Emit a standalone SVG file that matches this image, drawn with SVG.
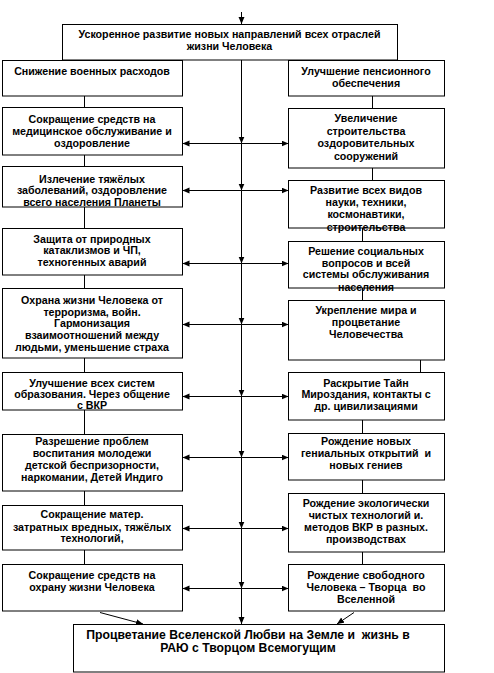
<svg xmlns="http://www.w3.org/2000/svg" width="494" height="673" viewBox="0 0 494 673">
<defs>
<marker id="ah" markerUnits="userSpaceOnUse" markerWidth="8" markerHeight="7" refX="7" refY="3" orient="auto">
<path d="M0,0 L7,3 L0,6 Z" fill="#000"/>
</marker>
<style>
rect{fill:#fff;stroke:#000;stroke-width:1}
text{font-family:"Liberation Sans",Arial,sans-serif;font-weight:bold;font-size:10.67px;fill:#000;text-anchor:middle}
.big{font-size:12.2px}
#connectors line,#connectors path{stroke:#000;stroke-width:1;fill:none}
.a{marker-end:url(#ah)}
</style>
</defs>
<rect x="0" y="0" width="494" height="673" style="fill:#fff;stroke:none"/>
<g id="connectors">
<line class="a" x1="241.5" y1="12" x2="241.5" y2="24"/>
<line class="a" x1="241.5" y1="60" x2="241.5" y2="143.5"/>
<line class="a" x1="241.5" y1="143.5" x2="241.5" y2="190.5"/>
<line class="a" x1="241.5" y1="190.5" x2="241.5" y2="263.5"/>
<line class="a" x1="241.5" y1="263.5" x2="241.5" y2="324.5"/>
<line class="a" x1="241.5" y1="324.5" x2="241.5" y2="396.5"/>
<line class="a" x1="241.5" y1="396.5" x2="241.5" y2="457.5"/>
<line class="a" x1="241.5" y1="457.5" x2="241.5" y2="528.5"/>
<line class="a" x1="241.5" y1="528.5" x2="241.5" y2="588.5"/>
<line class="a" x1="241.5" y1="588.5" x2="241.5" y2="624"/>
<line class="a" x1="241.5" y1="143.5" x2="182.5" y2="143.5"/>
<line class="a" x1="241.5" y1="190.5" x2="182.5" y2="190.5"/>
<line class="a" x1="241.5" y1="263.5" x2="182.5" y2="263.5"/>
<line class="a" x1="241.5" y1="324.5" x2="182.5" y2="324.5"/>
<line class="a" x1="241.5" y1="396.5" x2="182.5" y2="396.5"/>
<line class="a" x1="241.5" y1="457.5" x2="182.5" y2="457.5"/>
<line class="a" x1="241.5" y1="528.5" x2="182.5" y2="528.5"/>
<line class="a" x1="241.5" y1="588.5" x2="182.5" y2="588.5"/>
<line class="a" x1="241.5" y1="143.5" x2="288.5" y2="143.5"/>
<line class="a" x1="241.5" y1="190.5" x2="288.5" y2="190.5"/>
<line class="a" x1="241.5" y1="263.5" x2="288.5" y2="263.5"/>
<line class="a" x1="241.5" y1="324.5" x2="288.5" y2="324.5"/>
<line class="a" x1="241.5" y1="396.5" x2="288.5" y2="396.5"/>
<line class="a" x1="241.5" y1="457.5" x2="288.5" y2="457.5"/>
<line class="a" x1="241.5" y1="528.5" x2="288.5" y2="528.5"/>
<line class="a" x1="241.5" y1="588.5" x2="288.5" y2="588.5"/>
<line x1="84.5" y1="96" x2="84.5" y2="107"/>
<line x1="84.5" y1="155" x2="84.5" y2="166"/>
<line x1="84.5" y1="207" x2="84.5" y2="228"/>
<line x1="84.5" y1="275" x2="84.5" y2="288"/>
<line x1="84.5" y1="358" x2="84.5" y2="372"/>
<line x1="84.5" y1="410" x2="84.5" y2="434"/>
<line x1="84.5" y1="491" x2="84.5" y2="505"/>
<line x1="84.5" y1="550" x2="84.5" y2="564"/>
<line x1="372.5" y1="96" x2="372.5" y2="108"/>
<line x1="372.5" y1="168" x2="372.5" y2="180"/>
<line x1="362.5" y1="228" x2="362.5" y2="241"/>
<line x1="362.5" y1="288" x2="362.5" y2="300"/>
<line x1="420.5" y1="360" x2="420.5" y2="372"/>
<line x1="362.5" y1="420" x2="362.5" y2="433"/>
<line x1="362.5" y1="480" x2="362.5" y2="493"/>
<line x1="362.5" y1="552" x2="362.5" y2="564"/>
<line class="a" x1="100" y1="612.5" x2="143" y2="624"/>
<line class="a" x1="354" y1="612.5" x2="337" y2="624"/>
</g>
<g id="n_top"><rect x="62.5" y="24.5" width="335" height="35.5"/>
<text x="229.5" y="37.5">Ускоренное развитие новых направлений всех отраслей</text>
<text x="229.5" y="50">жизни Человека</text></g>
<g id="n_l1"><rect x="2.5" y="60.5" width="180" height="35.5"/>
<text x="92" y="75">Снижение военных расходов</text></g>
<g id="n_r1"><rect x="288.5" y="60.5" width="156" height="35.5"/>
<text x="366" y="75">Улучшение пенсионного</text>
<text x="366" y="87.3">обеспечения</text></g>
<g id="n_l2"><rect x="2.5" y="107.5" width="180" height="47.5"/>
<text x="92" y="122.7">Сокращение средств на</text>
<text x="92" y="135">медицинское обслуживание и</text>
<text x="92" y="147.3">оздоровление</text></g>
<g id="n_l3"><rect x="2.5" y="166.5" width="180" height="40.5"/>
<text x="92" y="182.7">Излечение тяжёлых</text>
<text x="92" y="194.3">заболеваний, оздоровление</text>
<text x="92" y="206">всего населения Планеты</text></g>
<g id="n_l4"><rect x="2.5" y="228.5" width="180" height="46.5"/>
<text x="92" y="242.7">Защита от природных</text>
<text x="92" y="254.3">катаклизмов и ЧП,</text>
<text x="92" y="266">техногенных аварий</text></g>
<g id="n_l5"><rect x="2.5" y="288.5" width="180" height="69.5"/>
<text x="92" y="304">Охрана жизни Человека от</text>
<text x="92" y="315.5">терроризма, войн.</text>
<text x="92" y="327">Гармонизация</text>
<text x="92" y="338.5">взаимоотношений между</text>
<text x="92" y="350.5">людьми, уменьшение страха</text></g>
<g id="n_l6"><rect x="2.5" y="372.5" width="180" height="37.5"/>
<text x="92" y="386.7">Улучшение всех систем</text>
<text x="92" y="398.3">образования. Через общение</text>
<text x="92" y="409.3">с ВКР</text></g>
<g id="n_l7"><rect x="2.5" y="434.5" width="180" height="56.5"/>
<text x="92" y="445">Разрешение проблем</text>
<text x="92" y="457">воспитания молодежи</text>
<text x="92" y="469">детской беспризорности,</text>
<text x="92" y="481">наркомании, Детей Индиго</text></g>
<g id="n_l8"><rect x="2.5" y="505.5" width="180" height="44.5"/>
<text x="92" y="518.3">Сокращение матер.</text>
<text x="92" y="530.7">затратных вредных, тяжёлых</text>
<text x="92" y="542.3">технологий,</text></g>
<g id="n_l9"><rect x="2.5" y="564.5" width="180" height="46.5"/>
<text x="92" y="579.3">Сокращение средств на</text>
<text x="92" y="590.7">охрану жизни Человека</text></g>
<g id="n_r2"><rect x="288.5" y="108.5" width="156" height="59.5"/>
<text x="366" y="122.3">Увеличение</text>
<text x="366" y="134.7">строительства</text>
<text x="366" y="147.3">оздоровительных</text>
<text x="366" y="160">сооружений</text></g>
<g id="n_r3"><rect x="288.5" y="180.5" width="156" height="47.5"/>
<text x="366" y="194.3">Развитие всех видов</text>
<text x="366" y="206">науки, техники,</text>
<text x="366" y="218">космонавтики,</text>
<text x="366" y="231">строительства</text></g>
<g id="n_r4"><rect x="288.5" y="241.5" width="156" height="46.5"/>
<text x="366" y="255">Решение социальных</text>
<text x="366" y="266.5">вопросов и всей</text>
<text x="366" y="278">системы обслуживания</text>
<text x="366" y="290.5">населения</text></g>
<g id="n_r5"><rect x="288.5" y="300.5" width="156" height="59.5"/>
<text x="366" y="314.3">Укрепление мира и</text>
<text x="366" y="326">процветание</text>
<text x="366" y="337.7">Человечества</text></g>
<g id="n_r6"><rect x="288.5" y="372.5" width="156" height="47.5"/>
<text x="366" y="386.7">Раскрытие Тайн</text>
<text x="366" y="398.3">Мироздания, контакты с</text>
<text x="366" y="410">др. цивилизациями</text></g>
<g id="n_r7"><rect x="288.5" y="433.5" width="156" height="46.5"/>
<text x="366" y="445.3">Рождение новых</text>
<text x="366" y="457.3" xml:space="preserve">гениальных открытий  и</text>
<text x="366" y="469.3">новых гениев</text></g>
<g id="n_r8"><rect x="288.5" y="493.5" width="156" height="58.5"/>
<text x="366" y="506.7">Рождение экологически</text>
<text x="366" y="518.7">чистых технологий и.</text>
<text x="366" y="530.7">методов ВКР в разных.</text>
<text x="366" y="542.7">производствах</text></g>
<g id="n_r9"><rect x="288.5" y="564.5" width="156" height="46.5"/>
<text x="366" y="578.7">Рождение свободного</text>
<text x="366" y="590.7" xml:space="preserve">Человека – Творца  во</text>
<text x="366" y="602.7">Вселенной</text></g>
<g id="n_bottom"><rect x="73.5" y="624.5" width="371" height="47.5"/>
<text class="big" x="248" y="639.3" xml:space="preserve">Процветание Вселенской Любви на Земле и  жизнь в</text>
<text class="big" x="248" y="652.3">РАЮ с Творцом Всемогущим</text></g>
</svg>
